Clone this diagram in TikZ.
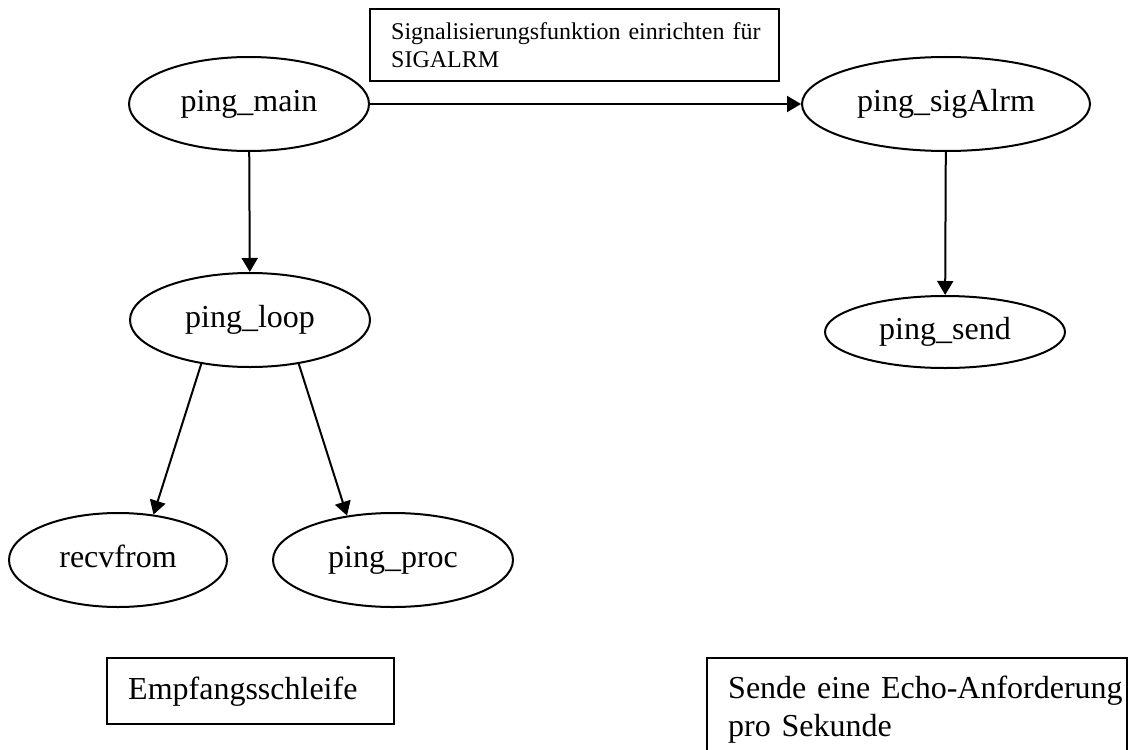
\documentclass[tikz,border=0pt]{standalone}
\usepackage{fontspec}
\setmainfont{Liberation Serif}
\usetikzlibrary{shapes.geometric,arrows.meta}

\begin{document}
\begin{tikzpicture}[x=0.5pt,y=-0.5pt,>={Triangle[length=7pt,width=8pt]}]
            \useasboundingbox (0,0) rectangle (1128,749);
            \begin{scope}[every node/.style={ellipse,draw,line width=1pt,inner sep=0pt,minimum width=120pt,minimum height=47pt,text height=11pt,text depth=3.5pt,font=\fontsize{16}{19}\selectfont}]
                \node (main) at (249, 104) {ping\_main};
                \node (sigalrm) [minimum width=144pt] at (946, 104) {ping\_sigAlrm};
                \node (loop) at (250, 320) {ping\_loop};
                \node (send) [minimum height=36pt] at (945, 332) {ping\_send};
                \node (recv) [minimum width=109pt] at (118, 560) {recvfrom};
                \node (proc) at (393, 560) {ping\_proc};
            \end{scope}

            \begin{scope}[every node/.style={draw,rectangle,line width=1.2pt,anchor=north west,align=left,inner xsep=10.5pt}]
                \node (sigbox) [text width=183.5pt, minimum height=36pt, font=\fontsize{12}{14}\selectfont] at (369, 8) {\mbox{Signalisierungsfunktion einrichten für}\\SIGALRM};
                \node (loopbox) [text width=122.5pt, minimum height=33pt, font=\fontsize{16}{19}\selectfont] at (106, 657) {Empfangsschleife};
                \node (sendbox) [text width=189pt, inner ysep=8.7pt, font=\fontsize{16}{19}\selectfont] at (706, 657) {\mbox{Sende eine Echo-Anforderung}\\pro Sekunde};
            \end{scope}

            \begin{scope}[every edge/.style={draw=black,line width=1pt}]
                \path [->] (main) edge (sigalrm);
                \path [->] (main) edge (loop);
                \path [->] (sigalrm) edge (send);
                \path [->] (loop.222) edge (recv.52);
                \path [->] (loop.318) edge (proc.136);
            \end{scope}
        \end{tikzpicture}
\end{document}
